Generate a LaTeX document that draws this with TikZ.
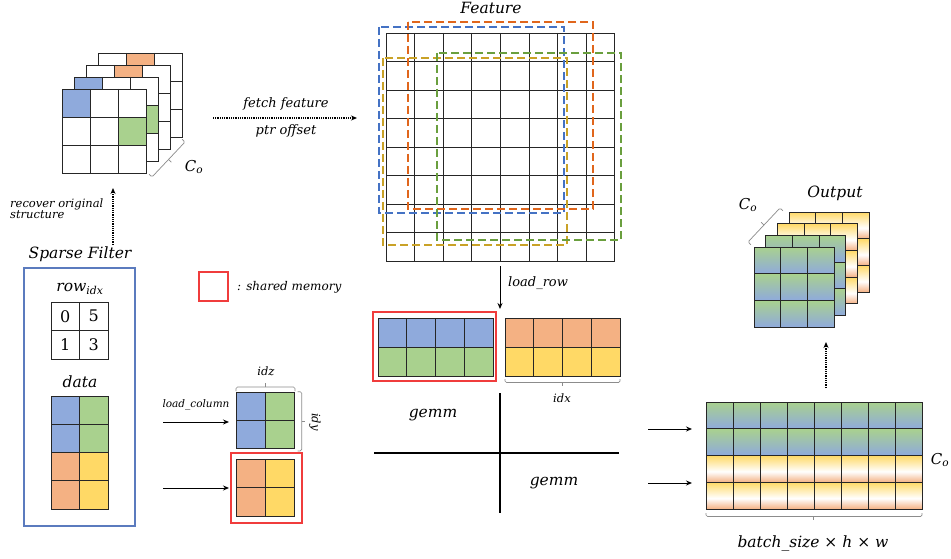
\documentclass[tikz,border=0pt]{standalone}
\usepackage{fontspec}
\setmainfont{DejaVu Serif}
\usetikzlibrary{arrows.meta}
\definecolor{cblue}{HTML}{8FAADC}
\definecolor{cgreen}{HTML}{A9D18E}
\definecolor{corange}{HTML}{F4B183}
\definecolor{cyellow}{HTML}{FFD966}
\definecolor{dblue}{HTML}{4472C4}
\definecolor{dorange}{HTML}{E0661C}
\definecolor{dgreen}{HTML}{6A9F3E}
\definecolor{dyellow}{HTML}{C9A227}
\definecolor{boxblue}{HTML}{5B7BBE}
\definecolor{redbox}{HTML}{F03C3C}
\definecolor{gridc}{HTML}{262626}
\definecolor{bracec}{HTML}{8C8C8C}
\pgfdeclareverticalshading{ywo}{100bp}{color(0bp)=(corange); color(25bp)=(corange); color(45bp)=(white); color(75bp)=(cyellow); color(100bp)=(cyellow)}
\pgfdeclareverticalshading{gb}{100bp}{color(0bp)=(cblue); color(25bp)=(cblue); color(75bp)=(cgreen); color(100bp)=(cgreen)}
\newcommand\mygrid[6]{%
 \pgfmathtruncatemacro\gnc{#3-1}\pgfmathtruncatemacro\gnr{#4-1}%
 \foreach \i in {1,...,\gnc}{\draw[gridline] ({#1+\i*#5},#2) -- ++(0,{#4*#6});}%
 \foreach \j in {1,...,\gnr}{\draw[gridline] (#1,{#2+\j*#6}) -- ++({#3*#5},0);}%
 \draw[gridline] (#1,#2) rectangle ++({#3*#5},{#4*#6});}
\newcommand\mycell[6]{\fill[#6] ({#1+#3*#5},{#2+#4*#5}) rectangle ++(#5,#5);}
\newcommand\Co{\itshape C\textsubscript{o}}
\begin{document}
\begin{tikzpicture}[x=1pt,y=-1pt,
 gridline/.style={draw=gridc,line width=0.9pt},
 lbl/.style={font=\itshape\fontsize{13}{15}\selectfont,inner sep=1pt},
 sml/.style={font=\itshape\fontsize{11.5}{13}\selectfont,inner sep=1pt},
 bigl/.style={font=\itshape\fontsize{15.5}{18}\selectfont,inner sep=1pt},
 midl/.style={font=\itshape\fontsize{15.5}{18}\selectfont,inner sep=1pt},
 col/.style={font=\itshape\fontsize{15}{18}\selectfont,inner sep=1pt},
 numl/.style={font=\fontsize{16}{18}\selectfont,inner sep=0pt},
 brace/.style={draw=bracec,line width=0.7pt,rounded corners=1.5pt},
 arr/.style={-{Stealth[length=6pt,width=5pt]},line width=1pt},
 dotarr/.style={-{Stealth[length=6pt,width=5pt]},line width=1.4pt,dash pattern=on 0.8pt off 1pt},
 dsh/.style={line width=1.5pt,dash pattern=on 8pt off 4pt},
 gstack/.style={shading=gb},
 ystack/.style={shading=ywo}]
\useasboundingbox (0,0) rectangle (951,559);
\fill[white] (0,0) rectangle (951,559);

% ---------- filter stack (top left)
\def\cw{28.3}
\fill[white] (98,53) rectangle ++(84.9,84.9);
\mycell{98}{53}{1}{0}{\cw}{corange}
\mygrid{98}{53}{3}{3}{\cw}{\cw}
\fill[white] (86,65) rectangle ++(84.9,84.9);
\mycell{86}{65}{1}{0}{\cw}{corange}
\mygrid{86}{65}{3}{3}{\cw}{\cw}
\fill[white] (74,77) rectangle ++(84.9,84.9);
\mycell{74}{77}{0}{0}{\cw}{cblue}
\mycell{74}{77}{2}{1}{\cw}{cgreen}
\mygrid{74}{77}{3}{3}{\cw}{\cw}
\fill[white] (62,89) rectangle ++(84.9,84.9);
\mycell{62}{89}{0}{0}{\cw}{cblue}
\mycell{62}{89}{2}{1}{\cw}{cgreen}
\mygrid{62}{89}{3}{3}{\cw}{\cw}
\draw[brace] (149.1,174.3) -- (152,177) -- (185,142) -- (182.1,139.3);
\draw[brace] (168.5,159.5) -- (171.4,162.2);
\node[col] (cofilt) at (194,167) {\Co};

\coordinate (recA) at (113,245);
\coordinate (recB) at (113,188);
\draw[dotarr] (recA) -- (recB);
\node[sml,align=left,anchor=west] (recl) at (9,209) {recover original\\[-2pt]structure};

% ---------- fetch arrow
\coordinate (fetA) at (213,118);
\coordinate (fetB) at (357,118);
\draw[dotarr] (fetA) -- (fetB);
\node[lbl] (fetl) at (286,104) {fetch feature};
\node[lbl] (ptrl) at (286,131) {ptr offset};

% ---------- feature grid
\node[bigl] (feat) at (491,8) {Feature};
\mygrid{386}{33}{8}{8}{28.6}{28.5}
\draw[dsh,draw=dblue] (379,27) rectangle (564,213);
\draw[dsh,draw=dorange] (408,22) rectangle (593,209);
\draw[dsh,draw=dyellow] (383,58) rectangle (567,245);
\draw[dsh,draw=dgreen] (437,53) rectangle (621,240);

\coordinate (lrA) at (500,266);
\coordinate (lrB) at (500,309);
\draw[arr] (lrA) -- (lrB);
\node[lbl,anchor=west] (lrl) at (507,283) {load\_row};

% ---------- middle blocks
\foreach \i in {0,...,3}{\fill[cblue] ({378+\i*28.75},318) rectangle ++(28.75,29);
 \fill[cgreen] ({378+\i*28.75},347) rectangle ++(28.75,29);
 \fill[corange] ({505+\i*28.75},318) rectangle ++(28.75,29);
 \fill[cyellow] ({505+\i*28.75},347) rectangle ++(28.75,29);}
\mygrid{378}{318}{4}{2}{28.75}{29}
\mygrid{505}{318}{4}{2}{28.75}{29}
\draw[redbox,line width=1.3pt] (373,312) rectangle (496,381);
\draw[brace] (505,379) -- (505,382.5) -- (620,382.5) -- (620,379);
\draw[brace] (562,382.5) -- (562,386);
\node[sml] (idxl) at (562,398) {idx};

\coordinate (vT) at (500,393);
\coordinate (vB) at (500,513);
\coordinate (hL) at (374,453);
\coordinate (hR) at (619,453);
\draw[line width=2pt] (vT) -- (vB);
\draw[line width=1.5pt] (hL) -- (hR);
\node[midl] (g1) at (433,415) {gemm};
\node[midl] (g2) at (554,483) {gemm};

% ---------- sparse filter panel
\node[bigl] (spf) at (80,254) {Sparse Filter};
\draw[boxblue,line width=1.2pt] (24,268) rectangle (135,526);
\node[bigl] (rowl) at (80,289) {row\textsubscript{idx}};
\mygrid{51}{302}{2}{2}{28.5}{28.5}
\node[numl] (n0) at (65.25,316.25) {0};
\node[numl] (n5) at (93.75,316.25) {5};
\node[numl] (n1) at (65.25,344.75) {1};
\node[numl] (n3) at (93.75,344.75) {3};
\node[bigl] (datal) at (80,382) {data};
\fill[cblue] (51,396) rectangle ++(28.5,56.6);
\fill[cgreen] (79.5,396) rectangle ++(28.5,56.6);
\fill[corange] (51,452.6) rectangle ++(28.5,56.6);
\fill[cyellow] (79.5,452.6) rectangle ++(28.5,56.6);
\mygrid{51}{396}{2}{4}{28.5}{28.3}

% legend
\draw[redbox,line width=1.2pt] (199,272) rectangle (228,301);
\node[lbl,font=\itshape\fontsize{12}{14}\selectfont,anchor=west] (legl) at (236,287) {: shared memory};

% load column
\coordinate (lc1A) at (163,422);
\coordinate (lc1B) at (229,422);
\coordinate (lc2A) at (163,488);
\coordinate (lc2B) at (229,488);
\draw[arr] (lc1A) -- (lc1B);
\draw[arr] (lc2A) -- (lc2B);
\node[font=\itshape\fontsize{10.5}{12}\selectfont,inner sep=1pt] (lcl) at (196,405) {load\_column};
\fill[cblue] (236,392) rectangle ++(29,56);
\fill[cgreen] (265,392) rectangle ++(29,56);
\mygrid{236}{392}{2}{2}{29}{28}
\fill[corange] (236,459) rectangle ++(29,57);
\fill[cyellow] (265,459) rectangle ++(29,57);
\mygrid{236}{459}{2}{2}{29}{28.5}
\draw[redbox,line width=1.2pt] (231,453) rectangle (302,523);
\draw[brace] (236,391) -- (236,387) -- (295,387) -- (295,391);
\draw[brace] (265.5,387) -- (265.5,383);
\node[sml] (idzl) at (266,371) {idz};
\draw[brace] (297.7,391.7) -- (301.7,391.7) -- (301.7,451) -- (297.7,451);
\draw[brace] (301.7,421.5) -- (305.2,421.5);
\node[sml,rotate=-90] (idyl) at (315,422) {idy};

% ---------- bottom right matrix
\coordinate (rA1) at (648,429);
\coordinate (rB1) at (692,429);
\coordinate (rA2) at (648,483);
\coordinate (rB2) at (692,483);
\draw[arr] (rA1) -- (rB1);
\draw[arr] (rA2) -- (rB2);
\foreach \i in {0,...,7}{
 \shade[gstack] ({706+\i*27},402) rectangle ++(27,26.75);
 \shade[gstack] ({706+\i*27},428.75) rectangle ++(27,26.75);
 \shade[ystack] ({706+\i*27},455.5) rectangle ++(27,26.75);
 \shade[ystack] ({706+\i*27},482.25) rectangle ++(27,26.75);}
\mygrid{706}{402}{8}{4}{27}{26.75}
\node[col] (cor) at (940,460) {\Co};
\draw[brace] (706,513) -- (706,516.5) -- (922,516.5) -- (922,513);
\draw[brace] (813,516.5) -- (813,520);
\node[midl] (bshw) at (813,543) {batch\_size × h × w};

\coordinate (oA) at (826,388);
\coordinate (oB) at (826,342);
\draw[dotarr] (oA) -- (oB);

% ---------- output stack
\def\oc{26.7}
\foreach \ox/\oy/\st in {789/212/ystack,777.3/223.7/ystack,765.7/235.3/gstack,754/247/gstack}{
 \foreach \i in {0,1,2}{\foreach \j in {0,1,2}{
  \shade[\st] ({\ox+\i*\oc},{\oy+\j*\oc}) rectangle ++(\oc,\oc);}}
 \mygrid{\ox}{\oy}{3}{3}{\oc}{\oc}
}
\node[bigl] (outl) at (835,193) {Output};
\draw[brace] (750.9,244.7) -- (748,242) -- (780,208) -- (782.9,210.7);
\draw[brace] (764,225) -- (761.1,222.3);
\node[col] (coout) at (748,205) {\Co};
\end{tikzpicture}
\end{document}
